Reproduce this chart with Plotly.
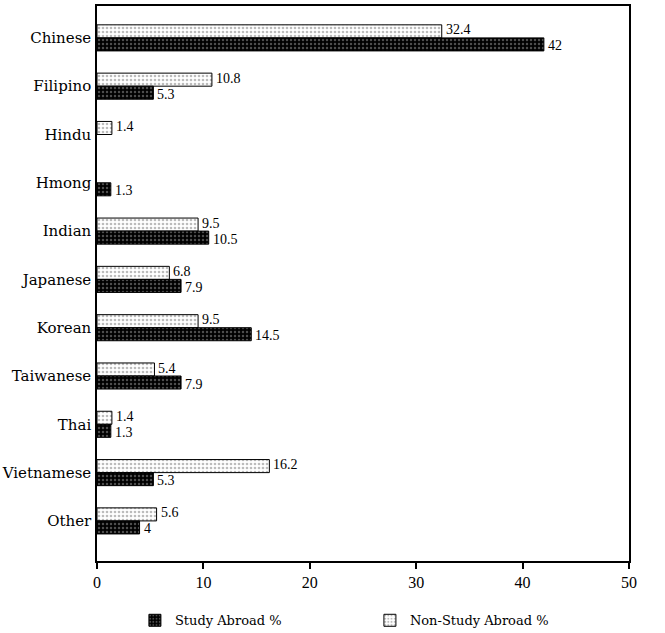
import plotly.graph_objects as go

categories = ["Chinese", "Filipino", "Hindu", "Hmong", "Indian", "Japanese",
              "Korean", "Taiwanese", "Thai", "Vietnamese", "Other"]
study_abroad = [42, 5.3, None, 1.3, 10.5, 7.9, 14.5, 7.9, 1.3, 5.3, 4]
non_study_abroad = [32.4, 10.8, 1.4, None, 9.5, 6.8, 9.5, 5.4, 1.4, 16.2, 5.6]
x_ticks = [0, 10, 20, 30, 40, 50]

label_font = "DejaVu Serif, serif"
num_font = "Liberation Serif, serif"

fig = go.Figure()
fig.add_trace(go.Bar(
    y=categories, x=non_study_abroad, orientation="h",
    name="Non-Study Abroad %", legendrank=2,
    marker=dict(color="white", line=dict(color="black", width=1),
                pattern=dict(shape=".", fgcolor="#7a7a7a", bgcolor="white",
                             size=4, solidity=0.35)),
))
fig.add_trace(go.Bar(
    y=categories, x=study_abroad, orientation="h",
    name="Study Abroad %", legendrank=1,
    marker=dict(color="black", line=dict(color="black", width=1),
                pattern=dict(shape=".", fgcolor="#9a9a9a", bgcolor="black",
                             size=4, solidity=0.3)),
))

# value labels next to each bar
for series, shift in ((non_study_abroad, 8), (study_abroad, -8)):
    for cat, v in zip(categories, series):
        if v is None:
            continue
        fig.add_annotation(x=v, y=cat, text=f"{v:g}", showarrow=False,
                           xanchor="left", yanchor="middle", xshift=2, yshift=shift,
                           font=dict(family=num_font, size=14, color="black"))

fig.update_layout(
    width=665, height=633,
    margin=dict(l=97, r=36, t=6, b=72),
    barmode="group", bargap=0.46, bargroupgap=0,
    plot_bgcolor="white", paper_bgcolor="white",
    font=dict(family=label_font, size=14, color="black"),
    showlegend=True,
    legend=dict(orientation="h", x=0.513, xanchor="center",
                yref="container", y=0.02, yanchor="middle",
                entrywidth=190, font=dict(family=label_font, size=13)),
)
fig.update_xaxes(range=[0, 50], tickvals=x_ticks, ticks="outside", ticklen=6,
                 tickwidth=1.5, tickcolor="black", automargin=False,
                 showline=True, linecolor="black", linewidth=1.5, mirror=True,
                 showgrid=False, zeroline=False,
                 tickfont=dict(family=num_font, size=16))
fig.update_yaxes(type="category", categoryorder="array", categoryarray=categories,
                 range=[10.83, -0.66], ticks="", ticklabelstandoff=1, automargin=False,
                 showline=True, linecolor="black", linewidth=1.5, mirror=True,
                 showgrid=False, zeroline=False,
                 tickfont=dict(family=label_font, size=15))

fig.write_html("out.html", config={"displayModeBar": False},
               post_script="document.body.style.margin='0';")
